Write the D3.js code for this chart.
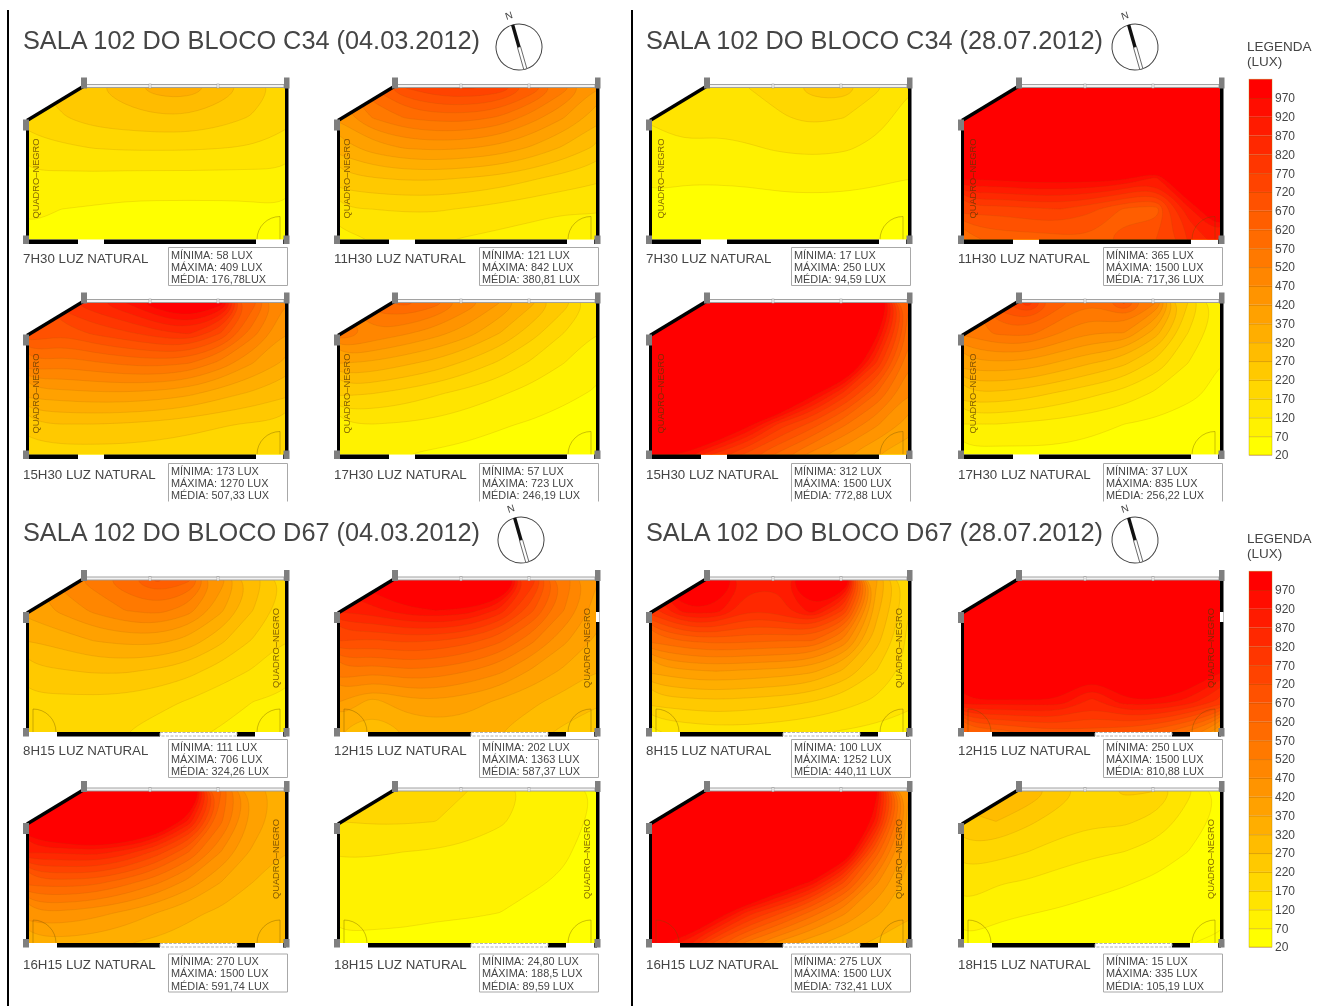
<!DOCTYPE html>
<html>
<head>
<meta charset="utf-8">
<script src="https://d3js.org/d3.v7.min.js"></script>
<style>
  html, body { margin: 0; padding: 0; background: #fff; }
  svg { display: block; font-family: "Liberation Sans", Arial, sans-serif; filter: blur(0.35px); }
</style>
</head>
<body>
<div id="my_dataviz"></div>
<script>

// Lux: 6 rows (window side first) by 9 columns
const c34Mar0730 = [
  [210,240,265,300,345,350,300,250,200],
  [190,215,240,250,260,260,240,215,185],
  [150,160,170,175,175,175,170,165,150],
  [110,105,105,100,100,100,100,100,105],
  [80,70,65,60,58,58,58,60,65],
  [60,50,45,45,45,45,45,45,50]
];
const c34Mar1130 = [
  [500,620,720,770,780,760,660,540,420],
  [430,520,570,590,590,560,490,420,340],
  [340,390,420,430,420,400,360,310,260],
  [250,265,275,275,265,250,225,200,180],
  [165,170,175,175,165,150,135,125,125],
  [100,120,125,125,115,105,100,95,95]
];
const c34Mar1530 = [
  [650,800,860,920,1020,1100,1000,640,470],
  [720,680,730,760,800,830,720,540,420],
  [560,540,560,580,590,570,500,420,360],
  [390,400,410,410,400,380,340,310,280],
  [260,270,270,265,255,240,225,215,205],
  [180,195,195,195,190,185,180,175,175]
];
const c34Mar1730 = [
  [500,600,640,590,500,420,330,240,150],
  [570,510,480,440,390,320,240,170,120],
  [370,360,330,300,255,210,160,120,90],
  [230,220,200,175,150,125,100,80,65],
  [115,120,115,105,90,75,65,55,48],
  [70,70,70,62,55,50,45,40,35]
];
const c34Jul0730 = [
  [135,150,160,170,190,240,250,180,125],
  [125,135,135,145,165,180,170,135,105],
  [105,115,110,115,125,130,125,110,90],
  [80,75,75,78,85,88,85,78,70],
  [55,50,50,48,50,50,50,48,48],
  [40,35,32,30,30,30,30,30,30]
];
const c34Jul1130 = [
  [1500,1500,1500,1500,1500,1500,1500,1500,1500],
  [1500,1500,1500,1500,1500,1500,1500,1500,1500],
  [1400,1400,1400,1300,1300,1300,1300,1400,1500],
  [980,980,1000,1000,1000,980,900,1150,1400],
  [750,740,760,770,730,660,640,900,1100],
  [580,640,640,650,660,680,720,820,900]
];
const c34Jul1530 = [
  [1500,1500,1500,1500,1500,1500,1500,1200,620],
  [1500,1500,1500,1500,1500,1500,1400,1000,600],
  [1500,1500,1500,1500,1500,1500,1200,820,530],
  [1500,1500,1500,1500,1300,1000,800,620,470],
  [1400,1400,1200,1000,800,700,580,480,400],
  [1000,950,800,700,600,500,430,370,340]
];
const c34Jul1730 = [
  [520,700,800,640,570,680,520,220,90],
  [530,580,590,520,470,470,340,170,80],
  [400,410,400,360,320,280,200,120,70],
  [260,260,240,210,180,150,110,80,60],
  [120,120,110,100,85,70,60,50,45],
  [55,50,55,55,50,42,38,35,35]
];
const d67Mar0815 = [
  [400,490,540,610,680,630,440,300,210],
  [390,430,480,520,540,490,380,270,190],
  [320,340,370,385,385,350,280,215,170],
  [255,265,275,275,260,235,195,165,140],
  [205,205,205,200,185,165,140,120,110],
  [180,180,180,170,150,130,115,105,100]
];
const d67Mar1215 = [
  [950,1020,1100,1200,1300,1200,800,560,420],
  [880,900,950,970,950,850,680,520,400],
  [720,710,730,720,690,630,530,430,360],
  [560,530,560,550,520,480,410,360,320],
  [420,350,400,410,390,360,330,300,280],
  [320,270,320,340,340,320,290,260,230]
];
const d67Mar1615 = [
  [1100,1400,1500,1500,1400,1200,620,400,340],
  [1100,1200,1300,1250,1150,900,580,400,330],
  [880,880,900,850,750,620,470,360,320],
  [640,650,640,590,530,450,370,320,300],
  [460,460,440,410,370,330,310,300,290],
  [340,350,340,320,310,300,290,280,275]
];
const d67Mar1815 = [
  [175,175,180,185,170,130,115,100,65],
  [170,175,175,170,150,125,105,90,60],
  [125,125,120,115,105,100,90,75,55],
  [100,95,90,85,85,80,75,65,50],
  [85,80,78,75,75,70,60,50,40],
  [62,62,62,58,50,45,40,35,30]
];
const d67Jul0815 = [
  [900,1300,1100,900,880,1300,1100,380,190],
  [800,950,950,820,850,950,760,340,170],
  [580,620,640,630,620,620,500,290,160],
  [380,410,420,410,400,380,310,220,150],
  [240,250,260,250,240,220,190,160,130],
  [110,135,145,145,135,125,115,105,100]
];
const d67Jul1215 = [
  [1500,1500,1500,1500,1500,1500,1500,1500,1500],
  [1500,1500,1500,1500,1500,1500,1500,1500,1500],
  [1500,1500,1500,1500,1500,1500,1500,1500,1500],
  [1300,1300,1300,1250,1000,1250,1300,1100,970],
  [950,950,950,950,850,950,950,900,800],
  [620,640,680,700,700,680,640,560,420]
];
const d67Jul1615 = [
  [1500,1500,1500,1500,1500,1500,1500,1000,420],
  [1500,1500,1500,1500,1500,1500,1400,900,400],
  [1500,1500,1500,1500,1500,1500,1100,650,370],
  [1500,1500,1500,1300,1100,950,720,480,350],
  [1400,1300,1050,850,730,600,480,380,330],
  [1000,900,700,550,450,380,340,310,290]
];
const d67Jul1815 = [
  [280,310,310,250,190,230,220,130,60],
  [265,270,230,195,180,180,150,100,55],
  [200,190,170,150,130,120,100,70,45],
  [140,125,115,95,85,75,60,45,35],
  [110,80,72,65,55,45,35,30,25],
  [60,50,45,40,30,25,22,20,18]
];

const titles = [
  "SALA 102 DO BLOCO C34 (04.03.2012)", "SALA 102 DO BLOCO C34 (28.07.2012)",
  "SALA 102 DO BLOCO D67 (04.03.2012)", "SALA 102 DO BLOCO D67 (28.07.2012)"
];
const gridsByPanel = [
  c34Mar0730, c34Mar1130, c34Jul0730, c34Jul1130,
  c34Mar1530, c34Mar1730, c34Jul1530, c34Jul1730,
  d67Mar0815, d67Mar1215, d67Jul0815, d67Jul1215,
  d67Mar1615, d67Mar1815, d67Jul1615, d67Jul1815
];
const hours = [
  "7H30", "11H30", "7H30", "11H30",
  "15H30", "17H30", "15H30", "17H30",
  "8H15", "12H15", "8H15", "12H15",
  "16H15", "18H15", "16H15", "18H15"
];
const minima = [
  "58 LUX", "121 LUX", "17 LUX", "365 LUX",
  "173 LUX", "57 LUX", "312 LUX", "37 LUX",
  "111 LUX", "202 LUX", "100 LUX", "250 LUX",
  "270 LUX", "24,80 LUX", "275 LUX", "15 LUX"
];
const maxima = [
  "409 LUX", "842 LUX", "250 LUX", "1500 LUX",
  "1270 LUX", "723 LUX", "1500 LUX", "835 LUX",
  "706 LUX", "1363 LUX", "1252 LUX", "1500 LUX",
  "1500 LUX", "188,5 LUX", "1500 LUX", "335 LUX"
];
const medias = [
  "176,78LUX", "380,81 LUX", "94,59 LUX", "717,36 LUX",
  "507,33 LUX", "246,19 LUX", "772,88 LUX", "256,22 LUX",
  "324,26 LUX", "587,37 LUX", "440,11 LUX", "810,88 LUX",
  "591,74 LUX", "89,59 LUX", "732,41 LUX", "105,19 LUX"
];
const legendTicks = [970,920,870,820,770,720,670,620,570,520,470,420,370,320,270,220,170,120,70,20];

// layout
const colX = [26, 337, 649, 961];
const rowY = [87.5, 302.5, 580, 791];
const roomW = 256, roomH = 152;
const textColor = "#454545";

const svg = d3.select("#my_dataviz").append("svg")
  .attr("width", 1332)
  .attr("height", 1006);

const color = d3.scaleLinear().domain([20, 970]).range(["#ffff00", "#ff0000"]);
const thresholds = legendTicks.slice().reverse();

// the two rules between the sheets
[8, 632].forEach(function(x) {
  svg.append("rect").attr("x", x - 1).attr("y", 10).attr("width", 2).attr("height", 996).attr("fill", "#000");
});

// titles and north arrows
[[23, 49, 519, 47], [646, 49, 1135, 47], [23, 541, 521, 540], [646, 541, 1135, 540]].forEach(function(p, i) {
  svg.append("text").attr("x", p[0]).attr("y", p[1])
    .attr("font-size", 25.3).attr("fill", textColor).text(titles[i]);
  const c = svg.append("g").attr("transform", "translate(" + p[2] + "," + p[3] + ") rotate(-16)");
  c.append("circle").attr("r", 23).attr("fill", "#fff").attr("stroke", "#444").attr("stroke-width", 1);
  c.append("rect").attr("x", -1.6).attr("y", 0).attr("width", 3.2).attr("height", 23)
    .attr("fill", "#fff").attr("stroke", "#555").attr("stroke-width", 0.8);
  c.append("rect").attr("x", -1.7).attr("y", -23).attr("width", 3.4).attr("height", 23).attr("fill", "#111");
  svg.append("text").attr("transform", "translate(" + (p[2] - 9) + "," + (p[3] - 28) + ") rotate(-18)")
    .attr("text-anchor", "middle").attr("font-size", 10).attr("fill", "#444").text("N");
});

function drawPanel(i) {
  const col = i % 4, row = Math.floor(i / 4);
  const isD67 = row >= 2;
  const grid = gridsByPanel[i];
  const ny = grid.length, nx = grid[0].length;
  const g = svg.append("g").attr("transform", "translate(" + colX[col] + "," + rowY[row] + ")");

  // d3.contours puts a node at the middle of each cell, so the room runs from first to last node
  const x = d3.scaleLinear().domain([0.5, nx - 0.5]).range([3, 3 + roomW]);
  const y = d3.scaleLinear().domain([0.5, ny - 0.5]).range([0, roomH]);
  const ringLine = d3.line().x(d => x(d[0])).y(d => y(d[1])).curve(d3.curveBasisClosed);

  g.append("clipPath").attr("id", "room" + i)
    .append("polygon")
    .attr("points", [[3, 33], [57, 0], [3 + roomW, 0], [3 + roomW, roomH], [3, roomH]].join(" "));

  const field = g.append("g").attr("clip-path", "url(#room" + i + ")");
  field.append("rect").attr("x", 0).attr("y", -2).attr("width", roomW + 6).attr("height", roomH + 4)
    .attr("fill", color(20));

  const contours = d3.contours().size([nx, ny]).thresholds(thresholds)(grid.flat());
  field.selectAll("path").data(contours).enter().append("path")
    .attr("d", c => c.coordinates.map(poly => poly.map(r => ringLine(r.slice(0, -1))).join("")).join(""))
    .attr("fill", c => color(c.value))
    .attr("fill-rule", "evenodd")
    .attr("stroke", "rgba(150,90,0,0.2)")
    .attr("stroke-width", 0.7);

  // doors drawn over the field
  const doors = isD67 ? [[254, -1], [7, 1]] : [[254, -1]];
  doors.forEach(function(d) {
    const dx = d[0], s = d[1], r = 23;
    field.append("path")
      .attr("d", "M" + dx + "," + roomH + "V" + (roomH - r) + "A" + r + "," + r + " 0 0 " + (s > 0 ? 1 : 0) + " " + (dx + s * r) + "," + roomH)
      .attr("fill", "none").attr("stroke", "rgba(110,80,0,0.45)").attr("stroke-width", 0.8);
  });

  // window along the top
  g.append("rect").attr("x", 60).attr("y", -3).attr("width", 198).attr("height", 3)
    .attr("fill", "#f2f2f2").attr("stroke", "#9a9a9a").attr("stroke-width", 0.9);
  [124, 192].forEach(function(mx) {
    g.append("rect").attr("x", mx - 1).attr("y", -3.5).attr("width", 2).attr("height", 4)
      .attr("fill", "#fff").attr("stroke", "#999").attr("stroke-width", 0.6);
  });

  // walls
  const wall = "#000";
  g.append("rect").attr("x", 0).attr("y", 40).attr("width", 3).attr("height", roomH - 40).attr("fill", wall);
  g.append("rect").attr("x", 3 + roomW).attr("y", 0).attr("width", 3.5).attr("height", roomH).attr("fill", wall);
  g.append("line").attr("x1", 58).attr("y1", -1.5).attr("x2", 1).attr("y2", 33)
    .attr("stroke", wall).attr("stroke-width", 3.4);

  // bottom wall: the C34 room has plain solid stretches, the D67 one has a low window too
  const solid = isD67 ? [[31, 134], [211, 229], [257, 260]] : [[3, 52], [78, 230], [257, 260]];
  solid.forEach(function(s) {
    g.append("rect").attr("x", s[0]).attr("y", roomH).attr("width", s[1] - s[0]).attr("height", 4.5).attr("fill", wall);
  });
  if (isD67) {
    g.append("rect").attr("x", 134).attr("y", roomH + 0.5).attr("width", 77).attr("height", 3.5)
      .attr("fill", "#fff").attr("stroke", "#aaa").attr("stroke-width", 0.9).attr("stroke-dasharray", "3 1.5");
  }

  // notch in the east wall of the D67 noon plans
  if (row === 2 && col % 2 === 1) {
    g.append("rect").attr("x", 3 + roomW).attr("y", 32).attr("width", 3.5).attr("height", 10).attr("fill", "#fff");
  }

  // columns
  [[-3, 32, 6, 11], [55, -10, 6, 11], [258, -10, 5.5, 11], [-3, roomH - 4, 6, 8.5], [257.5, roomH - 4, 6, 8.5]].forEach(function(c) {
    g.append("rect").attr("x", c[0]).attr("y", c[1]).attr("width", c[2]).attr("height", c[3]).attr("fill", "#7f7f7f");
  });

  // blackboard label
  const bx = isD67 ? 250 : (col >= 2 ? 12 : 10), by = isD67 ? 68 : 91;
  g.append("text").attr("transform", "translate(" + bx + "," + by + ") rotate(-90)")
    .attr("text-anchor", "middle").attr("dominant-baseline", "central")
    .attr("font-size", 9.3).attr("fill", "rgba(90,55,0,0.75)").text("QUADRO–NEGRO");

  // caption and stats box
  const capY = roomH + (row === 0 ? 23 : row === 1 ? 24 : row === 2 ? 22.5 : 26);
  g.append("text").attr("x", -3).attr("y", capY).attr("font-size", 13.3).attr("fill", textColor)
    .text(hours[i] + " LUZ NATURAL");

  const boxTop = capY - 15;
  const box = g.append("path").attr("fill", "none").attr("stroke", "#a8a8a8").attr("stroke-width", 1);
  if (row === 1) {
    // this row is cut off by the sheet below it
    box.attr("d", "M142.5," + (boxTop + 38) + "V" + boxTop + "H261.5V" + (boxTop + 38));
  } else {
    box.attr("d", "M142.5," + boxTop + "H261.5V" + (boxTop + 38) + "H142.5Z");
  }
  ["MÍNIMA: " + minima[i], "MÁXIMA: " + maxima[i], "MÉDIA: " + medias[i]].forEach(function(t, k) {
    g.append("text").attr("x", 145).attr("y", boxTop + 11 + k * 12.3)
      .attr("font-size", 10.9).attr("fill", textColor).text(t);
  });
}

d3.range(16).forEach(drawPanel);

// colour legends
[0, 492].forEach(function(dy) {
  const scale = d3.scaleLinear().domain([20, 970]).range([455 + dy, 98 + dy]);
  const lg = svg.append("g");
  lg.append("text").attr("x", 1247).attr("y", 51 + dy).attr("font-size", 13.5).attr("fill", textColor).text("LEGENDA");
  lg.append("text").attr("x", 1247).attr("y", 66 + dy).attr("font-size", 13.5).attr("fill", textColor).text("(LUX)");
  lg.selectAll("rect").data(legendTicks).enter().append("rect")
    .attr("x", 1249).attr("width", 23)
    .attr("y", d => scale(d + 50))
    .attr("height", d => scale(d) - scale(d + 50))
    .attr("fill", d => color(d));
  lg.append("rect").attr("x", 1249).attr("y", scale(1020)).attr("width", 23).attr("height", scale(20) - scale(1020))
    .attr("fill", "none").attr("stroke", "rgba(170,130,0,0.5)").attr("stroke-width", 0.7);
  const axis = lg.append("g").attr("transform", "translate(1272,0)")
    .call(d3.axisRight(scale).tickValues(legendTicks).tickFormat(d3.format("d")).tickSize(-23).tickPadding(3));
  axis.select(".domain").remove();
  axis.selectAll("line").attr("stroke", "rgba(150,70,0,0.45)").attr("stroke-width", 0.7);
  axis.selectAll("text").attr("font-size", 12).attr("font-family", "Liberation Sans").attr("fill", textColor);
});

</script>
</body>
</html>
